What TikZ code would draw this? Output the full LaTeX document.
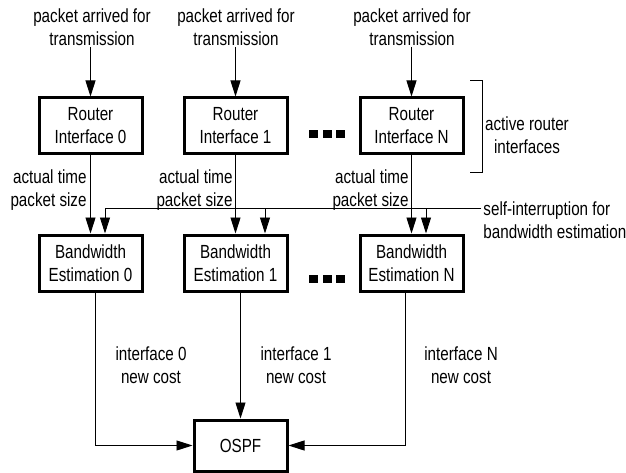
\documentclass[tikz,border=0pt]{standalone}
\usepackage{fontspec}
\setmainfont{Liberation Sans}[FakeStretch=0.8]
\usetikzlibrary{arrows.meta}
\tikzset {
  >={Triangle[length=16pt,width=10pt]},
  every node/.style={font=\fontsize{19pt}{23pt}\selectfont},
  % framed processing blocks
  block/.style={draw, line width=3pt, minimum width=103pt, minimum height=56pt, align=center, inner sep=2pt},
  % plain text labels
  lbl/.style={align=center, inner sep=1pt},
  % the little squares between interfaces
  dot/.style={fill=black, minimum width=9pt, minimum height=8pt, inner sep=0pt},
}

\begin{document}
\begin{tikzpicture}[x=1pt, y=-1pt, line width=0.9pt]
      \useasboundingbox (0,0) rectangle (626,473);

      \node[lbl] (in0) at (92,27) {packet arrived for\\transmission};
      \node[lbl] (in1) at (236,27) {packet arrived for\\transmission};
      \node[lbl] (inN) at (412,27) {packet arrived for\\transmission};

      \node[block] (r0) at (90.5,126) {Router\\Interface 0};
      \node[block] (r1) at (235.5,126) {Router\\Interface 1};
      \node[block] (rN) at (411.5,126) {Router\\Interface N};

      \node[block] (b0) at (90.5,263) {Bandwidth\\Estimation 0};
      \node[block] (b1) at (235.5,263) {Bandwidth\\Estimation 1};
      \node[block] (bN) at (411.5,263) {Bandwidth\\Estimation N};

      \node[block, minimum width=93pt, minimum height=51pt] (ospf) at (240.5,445.5) {OSPF};

      \foreach \x/\n in {313.5/1, 327.5/2, 340.5/3} {
        \node[dot] (rdot\n) at (\x,134) {};
        \node[dot] (bdot\n) at (\x,279) {};
      }

      \draw [->] (r0.north |- in0.south) -- (r0);
      \draw [->] (r1.north |- in1.south) -- (r1);
      \draw [->] (rN.north |- inN.south) -- (rN);

      \node[lbl, align=right, anchor=east] (m0) at (88,190) {actual time\\packet size};
      \node[lbl, align=right, anchor=east] (m1) at (234,190) {actual time\\packet size};
      \node[lbl, align=right, anchor=east] (mN) at (410,190) {actual time\\packet size};

      \draw [->] (r0) -- (b0);
      \draw [->] (r1) -- (b1);
      \draw [->] (rN) -- (bN);

      % self-interruption bus
      \node[lbl, align=left, anchor=west] (self) at (482,220) {self-interruption for\\bandwidth estimation};
      \coordinate (selfin) at (481,208);
      \coordinate (tap1) at (265,208);
      \coordinate (tapN) at (426,208);
      \draw [->] (selfin) -| ([xshift=14.5pt]b0.north);
      \draw [->] (tap1) -- (tap1 |- b1.north);
      \draw [->] (tapN) -- (tapN |- bN.north);

      % bracket round the interfaces
      \coordinate (brtop) at (470,80);
      \coordinate (brbot) at (470,172);
      \draw (brtop) -- ++(12,0) |- (brbot);
      \node[lbl] (act) at (527,135) {active router\\interfaces};

      \node[lbl] (c0) at (151,365) {interface 0\\new cost};
      \node[lbl] (c1) at (296,365) {interface 1\\new cost};
      \node[lbl] (cN) at (461,365) {interface N\\new cost};

      \draw [->] ([xshift=4.5pt]b0.south) |- (ospf);
      \draw [->] (ospf.north |- b1.south) -- (ospf);
      \draw [->] ([xshift=-6.5pt]bN.south) |- (ospf);
\end{tikzpicture}
\end{document}
